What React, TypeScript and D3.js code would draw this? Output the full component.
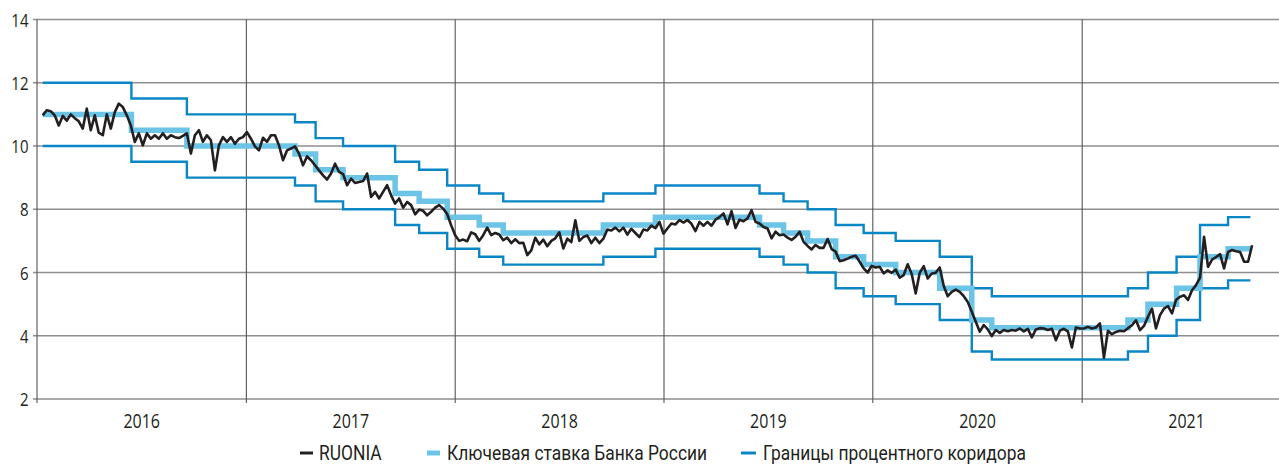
import React from 'react';
import * as d3 from 'd3';

// ---------------- DATA ----------------
// Key rate of the Bank of Russia: change dates and new levels (%)
const keyRateDates = [
  '2016-01-11', '2016-06-14', '2016-09-19', '2017-03-27', '2017-05-02', '2017-06-19',
  '2017-09-18', '2017-10-30', '2017-12-18', '2018-02-12', '2018-03-26', '2018-09-17',
  '2018-12-17', '2019-06-17', '2019-07-29', '2019-09-09', '2019-10-28', '2019-12-16',
  '2020-02-10', '2020-04-27', '2020-06-22', '2020-07-27', '2021-03-22', '2021-04-26',
  '2021-06-15', '2021-07-26', '2021-09-13',
];
const keyRateValues = [
  11, 10.5, 10, 9.75, 9.25, 9, 8.5, 8.25, 7.75, 7.5, 7.25, 7.5, 7.75, 7.5, 7.25, 7, 6.5, 6.25,
  6, 5.5, 4.5, 4.25, 4.5, 5, 5.5, 6.5, 6.75,
];
const corridorUpper = [
  12, 11.5, 11, 10.75, 10.25, 10, 9.5, 9.25, 8.75, 8.5, 8.25, 8.5, 8.75, 8.5, 8.25, 8, 7.5, 7.25,
  7, 6.5, 5.5, 5.25, 5.5, 6, 6.5, 7.5, 7.75,
];
const corridorLower = [
  10, 9.5, 9, 8.75, 8.25, 8, 7.5, 7.25, 6.75, 6.5, 6.25, 6.5, 6.75, 6.5, 6.25, 6, 5.5, 5.25,
  5, 4.5, 3.5, 3.25, 3.5, 4, 4.5, 5.5, 5.75,
];
const seriesEnd = '2021-10-22';

// RUONIA, weekly readings (%), weeks starting on Monday 2016-01-11
const ruoniaStart = '2016-01-11';
const ruonia2016 = [
  10.97, 11.13, 11.1, 10.97, 10.65, 10.95, 10.8, 11.0, 10.88, 10.78, 10.55, 11.18, 10.5, 10.97,
  10.42, 10.34, 11.0, 10.55, 11.07, 11.34, 11.23, 10.97, 10.65, 10.13, 10.4, 10.02, 10.4, 10.23,
  10.34, 10.23, 10.4, 10.23, 10.34, 10.28, 10.25, 10.32, 10.4, 9.76, 10.34, 10.5, 10.13, 10.34,
  10.18, 9.23, 10.02, 10.28, 10.13, 10.28, 10.07, 10.23, 10.28, 10.44,
];
const ruonia2017 = [
  10.23, 9.99, 9.86, 10.26, 10.13, 10.34, 10.34, 10.02, 9.55, 9.86, 9.92, 9.99, 9.76, 9.39, 9.67,
  9.55, 9.39, 9.23, 9.07, 8.94, 9.13, 9.44, 9.18, 9.11, 8.76, 8.97, 8.83, 8.86, 8.89, 9.13, 8.39,
  8.55, 8.34, 8.55, 8.76, 8.44, 8.18, 8.34, 8.05, 8.23, 8.13, 7.84, 7.99, 7.95, 7.81, 7.92, 8.05,
  8.13, 8.02, 7.85, 7.49, 7.18,
];
const ruonia2018 = [
  7.0, 7.04, 6.99, 7.27, 7.21, 7.0, 7.18, 7.42, 7.18, 7.25, 7.2, 7.02, 7.1, 6.93, 7.05, 6.93, 6.94,
  6.55, 6.7, 7.1, 6.89, 7.04, 6.83, 7.0, 7.08, 7.27, 6.76, 7.07, 6.96, 7.65, 7.0, 7.12, 7.17, 6.93,
  7.1, 6.93, 7.07, 7.36, 7.33, 7.42, 7.3, 7.42, 7.2, 7.38, 7.25, 7.12, 7.36, 7.33, 7.48, 7.4, 7.6,
  7.23,
];
const ruonia2019 = [
  7.39, 7.55, 7.52, 7.66, 7.58, 7.66, 7.54, 7.31, 7.6, 7.48, 7.6, 7.48, 7.67, 7.75, 7.87, 7.52,
  7.94, 7.41, 7.67, 7.62, 7.71, 7.97, 7.6, 7.55, 7.44, 7.39, 7.08, 7.29, 7.18, 7.2, 7.1, 7.03, 7.13,
  7.29, 6.97, 6.84, 6.73, 6.87, 6.78, 6.78, 7.06, 6.74, 6.66, 6.36, 6.39, 6.44, 6.5, 6.53, 6.34,
  6.13, 6.0, 6.21,
];
const ruonia2020 = [
  6.16, 6.18, 5.97, 6.07, 5.99, 6.09, 5.84, 5.92, 6.26, 5.95, 5.34, 5.99, 6.2, 5.81, 5.97, 5.99,
  6.16, 5.57, 5.25, 5.39, 5.46, 5.39, 5.25, 5.07, 4.76, 4.44, 4.13, 4.34, 4.2, 3.99, 4.18, 4.09,
  4.18, 4.14, 4.18, 4.16, 4.23, 4.14, 4.22, 3.95, 4.2, 4.24, 4.23, 4.18, 4.22, 3.86, 4.16, 4.22,
  4.14, 3.63, 4.26, 4.23,
];
const ruonia2021 = [
  4.23, 4.28, 4.23, 4.26, 4.39, 3.3, 4.16, 4.05, 4.12, 4.16, 4.14, 4.24, 4.33, 4.49, 4.18, 4.31,
  4.6, 4.86, 4.23, 4.65, 4.86, 4.94, 4.71, 5.13, 5.23, 5.28, 5.13, 5.44, 5.6, 5.84, 7.13, 6.18,
  6.41, 6.49, 6.58, 6.13, 6.65, 6.71, 6.67, 6.65, 6.34, 6.34, 6.86,
];

const yTicks = [2, 4, 6, 8, 10, 12, 14];
const yearLabels = ['2016', '2017', '2018', '2019', '2020', '2021'];
const legendLabels = ['RUONIA', 'Ключевая ставка Банка России', 'Границы процентного коридора'];

// ---------------- CHART ----------------
const W = 1279;
const H = 464;
const PLOT_LEFT = 37;
const PLOT_TOP = 19.5;
const PLOT_BOTTOM = 399;

const C_RUONIA = '#231f20';
const C_KEY = '#6cc4e6';
const C_CORR = '#0a86c6';
const C_TEXT = '#231f20';

const parse = d3.timeParse('%Y-%m-%d');

export default function App() {
  const x = d3
    .scaleTime()
    .domain([new Date(2016, 0, 1), new Date(2022, 0, 1)])
    .range([PLOT_LEFT, PLOT_LEFT + 209 * 6]);
  const y = d3.scaleLinear().domain([2, 14]).range([PLOT_BOTTOM, PLOT_TOP]);

  const ruoniaValues = [
    ...ruonia2016,
    ...ruonia2017,
    ...ruonia2018,
    ...ruonia2019,
    ...ruonia2020,
    ...ruonia2021,
  ];
  const start = parse(ruoniaStart) as Date;
  const ruonia = ruoniaValues.map((v, i) => ({ d: d3.timeDay.offset(start, 7 * i), v }));

  const endDate = parse(seriesEnd) as Date;
  const stepSeries = (vals: number[]) => {
    const pts = keyRateDates.map((s, i) => ({ d: parse(s) as Date, v: vals[i] }));
    pts.push({ d: endDate, v: vals[vals.length - 1] });
    return pts;
  };

  const stepLine = d3
    .line<{ d: Date; v: number }>()
    .x((p) => x(p.d))
    .y((p) => y(p.v))
    .curve(d3.curveStepAfter);
  const plainLine = d3
    .line<{ d: Date; v: number }>()
    .x((p) => x(p.d))
    .y((p) => y(p.v));

  const years = d3.range(2016, 2023).map((yr) => new Date(yr, 0, 1));

  const legendItems = [
    { label: legendLabels[0], color: C_RUONIA, w: 3, x0: 300, x1: 313, tx: 319 },
    { label: legendLabels[1], color: C_KEY, w: 5, x0: 427, x1: 440, tx: 447 },
    { label: legendLabels[2], color: C_CORR, w: 3, x0: 741, x1: 756, tx: 763 },
  ];
  const LEG_Y = 453;

  return (
    <div style={{ position: 'absolute', left: 0, top: 0 }}>
      <svg width={W} height={H} style={{ display: 'block', background: '#fff' }}>
        {/* horizontal grid */}
        {yTicks.map((t) => (
          <line
            key={'h' + t}
            x1={PLOT_LEFT - 4}
            x2={W}
            y1={y(t)}
            y2={y(t)}
            stroke="#8e8e8e"
            strokeWidth={1.3}
          />
        ))}
        {/* vertical year lines */}
        {years.slice(0, 6).map((d, i) => (
          <line
            key={'v' + i}
            x1={x(d)}
            x2={x(d)}
            y1={PLOT_TOP}
            y2={PLOT_BOTTOM + 4}
            stroke="#555"
            strokeWidth={1.1}
          />
        ))}
        {/* y labels */}
        {yTicks.map((t) => (
          <text
            key={'yl' + t}
            transform={`translate(28.5,${y(t) + 7}) scale(1,1.25)`}
            textAnchor="end"
            fontFamily="'Open Sans', sans-serif"
            fontSize={15}
            fill={C_TEXT}
          >
            {t}
          </text>
        ))}
        {/* x labels */}
        {yearLabels.map((lab, i) => {
          const cx = (x(years[i]) + x(years[i + 1])) / 2;
          return (
            <text
              key={'xl' + lab}
              transform={`translate(${cx},427.5) scale(1,1.3)`}
              textAnchor="middle"
              fontFamily="'Open Sans', sans-serif"
              fontSize={16}
              fill={C_TEXT}
            >
              {lab}
            </text>
          );
        })}

        {/* corridor */}
        <path d={stepLine(stepSeries(corridorUpper)) || ''} fill="none" stroke={C_CORR} strokeWidth={2.4} />
        <path d={stepLine(stepSeries(corridorLower)) || ''} fill="none" stroke={C_CORR} strokeWidth={2.4} />
        {/* key rate */}
        <path d={stepLine(stepSeries(keyRateValues)) || ''} fill="none" stroke={C_KEY} strokeWidth={5.5} />
        {/* RUONIA */}
        <path
          d={plainLine(ruonia) || ''}
          fill="none"
          stroke={C_RUONIA}
          strokeWidth={2.6}
          strokeLinejoin="round"
        />

        {/* legend */}
        {legendItems.map((it) => (
          <g key={it.label}>
            <line x1={it.x0} x2={it.x1} y1={LEG_Y} y2={LEG_Y} stroke={it.color} strokeWidth={it.w} />
            <text
              transform={`translate(${it.tx},${LEG_Y + 6.5}) scale(1,1.15)`}
              fontFamily="Roboto, sans-serif"
              fontSize={17.4}
              fill={C_TEXT}
            >
              {it.label}
            </text>
          </g>
        ))}
      </svg>
    </div>
  );
}
